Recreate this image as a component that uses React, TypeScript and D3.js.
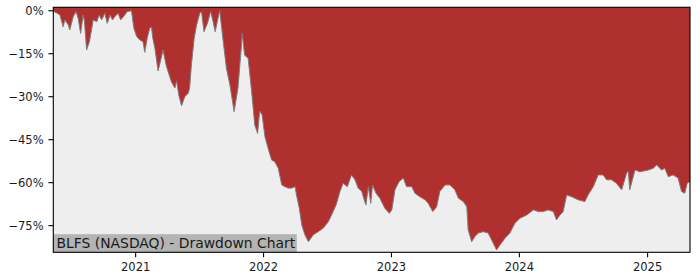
import React from "react";
import * as d3 from "d3";

const dates: string[] = [
  "2020-05-11","2020-05-16","2020-05-21","2020-05-30","2020-06-08","2020-06-13","2020-06-23","2020-06-27",
  "2020-07-07","2020-07-15","2020-07-21","2020-07-28","2020-08-04","2020-08-08","2020-08-14","2020-08-22",
  "2020-08-28","2020-09-02","2020-09-12","2020-09-19","2020-09-26","2020-10-05","2020-10-12","2020-10-20",
  "2020-10-27","2020-11-03","2020-11-12","2020-11-19","2020-12-01","2020-12-08","2020-12-20","2020-12-27",
  "2021-01-04","2021-01-13","2021-01-22","2021-01-27","2021-02-03","2021-02-10","2021-02-15","2021-02-19",
  "2021-02-25","2021-03-06","2021-03-14","2021-03-20","2021-03-30","2021-04-13","2021-04-23","2021-04-28",
  "2021-05-04","2021-05-12","2021-05-21","2021-05-31","2021-06-04","2021-06-09","2021-06-17","2021-06-24",
  "2021-07-03","2021-07-08","2021-07-15","2021-07-25","2021-08-03","2021-08-10","2021-08-16","2021-08-23",
  "2021-08-29","2021-09-08","2021-09-17","2021-09-27","2021-10-09","2021-10-20","2021-10-30","2021-11-01",
  "2021-11-08","2021-11-18","2021-11-28","2021-12-07","2021-12-15","2021-12-21","2021-12-28","2022-01-05",
  "2022-01-14","2022-01-24","2022-02-02","2022-02-12","2022-02-22","2022-03-03","2022-03-12","2022-03-22",
  "2022-04-01","2022-04-05","2022-04-13","2022-04-20","2022-04-29","2022-05-09","2022-05-23","2022-06-06",
  "2022-06-20","2022-07-05","2022-07-14","2022-07-27","2022-08-07","2022-08-16","2022-08-28","2022-09-09",
  "2022-09-19","2022-09-28","2022-10-08","2022-10-20","2022-10-27","2022-11-03","2022-11-08","2022-11-18",
  "2022-11-29","2022-12-13","2022-12-26","2023-01-02","2023-01-11","2023-01-23","2023-02-04","2023-02-13",
  "2023-02-28","2023-03-09","2023-03-23","2023-04-07","2023-04-16","2023-04-29","2023-05-10","2023-05-19",
  "2023-06-03","2023-06-17","2023-07-01","2023-07-11","2023-07-25","2023-08-04","2023-08-08","2023-08-18",
  "2023-08-27","2023-09-06","2023-09-20","2023-10-04","2023-10-14","2023-10-28","2023-11-07","2023-11-21",
  "2023-12-05","2023-12-19","2024-01-03","2024-01-22","2024-02-10","2024-02-24","2024-03-09","2024-03-23",
  "2024-04-07","2024-04-16","2024-04-26","2024-05-05","2024-05-15","2024-05-29","2024-06-17","2024-07-06",
  "2024-07-15","2024-07-30","2024-08-13","2024-08-27","2024-09-06","2024-09-20","2024-10-04","2024-10-19",
  "2024-11-02","2024-11-07","2024-11-11","2024-11-26","2024-12-10","2025-01-03","2025-01-17","2025-01-27",
  "2025-02-10","2025-02-19","2025-03-01","2025-03-15","2025-03-29","2025-04-08","2025-04-17","2025-04-24",
  "2025-05-02"
];

const drawdown: number[] = [
  0,-0.5,-0.8,-1.5,-5.6,-3.2,-5.0,-6.7,
  -2.0,-0.3,-2.7,-7.9,-1.5,-3.8,-13.7,-10.8,
  -6.7,-3.2,-3.8,-1.5,-3.2,-0.9,-4.4,-1.5,
  -3.2,-2.0,-0.9,-3.2,-1.5,-0.3,0,-6.1,
  -9.0,-10.2,-10.8,-14.5,-9.6,-6.1,-5.6,-9.6,
  -13.1,-21.0,-17.0,-13.7,-19.5,-24.8,-27.0,-24.5,
  -29.4,-33.2,-30.0,-28.8,-27.0,-19.0,-9.6,-5.0,
  -0.9,-0.3,-7.3,-4.4,-0.3,-3.8,-7.3,-3.2,
  0,-10.8,-20.0,-25.9,-35.2,-27.0,-12.0,-7.9,
  -15.5,-16.6,-28.2,-39.9,-42.8,-35.0,-36.4,-44.0,
  -48.0,-52.1,-52.7,-55.0,-60.8,-61.4,-61.9,-61.9,
  -61.4,-64.3,-68.9,-74.7,-78.2,-80.6,-78.2,-77.1,
  -75.9,-73.6,-71.3,-67.8,-63.1,-60.2,-61.4,-57.3,
  -59.0,-61.9,-63.0,-67.8,-61.4,-67.2,-60.8,-63.7,
  -65.4,-68.9,-70.7,-69.5,-62.5,-59.6,-58.4,-61.4,
  -61.4,-63.7,-64.9,-66.0,-67.2,-70.1,-68.4,-63.1,
  -60.8,-60.8,-62.5,-65.4,-66.6,-68.4,-76.5,-80.6,
  -78.8,-77.6,-77.1,-77.6,-80.0,-83.5,-81.7,-79.4,
  -77.6,-74.2,-72.4,-71.3,-69.5,-70.1,-70.1,-69.5,
  -70.1,-73.0,-71.3,-70.1,-64.3,-64.9,-66.0,-66.6,
  -64.3,-61.4,-57.3,-57.3,-59.0,-59.0,-60.2,-62.5,
  -56.7,-56.0,-62.5,-55.6,-56.2,-55.6,-55.0,-53.8,
  -55.6,-55.0,-57.9,-57.3,-58.4,-63.1,-63.7,-60.2,
  -59.6
];

const yTicks: number[] = [0, -15, -30, -45, -60, -75];
const xTickYears: number[] = [2021, 2022, 2023, 2024, 2025];
const title = "BLFS (NASDAQ) - Drawdown Chart";

const W = 700, H = 280;
const L = 53.3, R = 690, T = 7.3, B = 252.3;
const FONT = "DejaVu Sans, sans-serif";

export default function App() {
  const parse = d3.utcParse("%Y-%m-%d");
  const pts = dates.map((d, i) => ({ t: parse(d) as Date, v: drawdown[i] }));
  const x = d3.scaleUtc().domain([pts[0].t, pts[pts.length - 1].t]).range([L, R]);
  const y = d3.scaleLinear().domain([-84.3, 1.2]).range([B, T]);

  const area = d3.area<{ t: Date; v: number }>()
    .x(p => x(p.t)).y0(T).y1(p => y(p.v));
  const line = d3.line<{ t: Date; v: number }>()
    .x(p => x(p.t)).y(p => y(p.v));

  const fmt = (v: number) => (v < 0 ? "\u2212" + Math.abs(v) : String(v)) + "%";

  return (
    <svg width={W} height={H} style={{ position: "absolute", left: 0, top: 0, background: "#fff" }}
      fontFamily={FONT}>
      <rect x={L} y={T} width={R - L} height={B - T} fill="#eeeeee" />
      <path d={area(pts) || ""} fill="#b03030" />
      <path d={line(pts) || ""} fill="none" stroke="#7d7d7d" strokeWidth={1} />
      <rect x={L} y={234.2} width={243.5} height={B - 234.2} fill="#b4b4b4" />
      <text x={56.5} y={247.6} fontSize={13.9} fill="#1a1a1a">{title}</text>
      <rect x={L} y={T} width={R - L} height={B - T} fill="none" stroke="#000" strokeWidth={1.1} />
      {yTicks.map(v => (
        <g key={v}>
          <line x1={L - 4.9} x2={L} y1={y(v)} y2={y(v)} stroke="#000" strokeWidth={1.1} />
          <text x={43.6} y={y(v) + 4.2} fontSize={11.5} textAnchor="end" fill="#1a1a1a">{fmt(v)}</text>
        </g>
      ))}
      {xTickYears.map(yr => {
        const px = x(new Date(Date.UTC(yr, 0, 1)));
        return (
          <g key={yr}>
            <line x1={px} x2={px} y1={B} y2={B + 4.9} stroke="#000" strokeWidth={1.1} />
            <text x={px} y={271.1} fontSize={11.5} textAnchor="middle" fill="#1a1a1a">{yr}</text>
          </g>
        );
      })}
    </svg>
  );
}
